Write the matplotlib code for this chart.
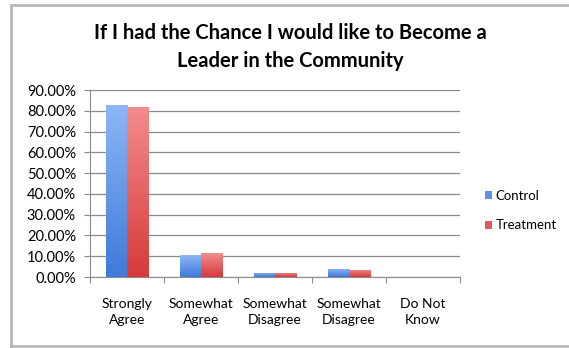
import numpy as np
import matplotlib.pyplot as plt
from matplotlib.colors import LinearSegmentedColormap
from matplotlib.lines import Line2D

categories = ['Strongly\nAgree', 'Somewhat\nAgree', 'Somewhat\nDisagree', 'Somewhat\nDisagree', 'Do Not\nKnow']
control = [82.8, 10.5, 2.0, 4.0, 0.0]
treatment = [82.0, 11.5, 2.0, 3.6, 0.0]
yticks = np.arange(0, 100, 10)

plt.rcParams['font.family'] = ['Lato', 'DejaVu Sans']

fig = plt.figure(figsize=(5.69, 3.48), dpi=100)
# grey frame (right edge runs off the picture)
frame = dict(transform=fig.transFigure, color='#b8b8b8', linewidth=2)
fig.lines.append(Line2D([0.020, 0.020], [0.006, 0.986], **frame))
fig.lines.append(Line2D([0.020, 1.0], [0.986, 0.986], **frame))
fig.lines.append(Line2D([0.020, 1.0], [0.006, 0.006], **frame))

ax = fig.add_axes([0.158, 0.204, 0.650, 0.537])
x = np.arange(len(categories))
w = 0.285
bars_c = ax.bar(x - w / 2, control, w, color='#5f93e0', label='Control', zorder=3)
bars_t = ax.bar(x + w / 2, treatment, w, color='#e05a5a', label='Treatment', zorder=3)

# vertical gradient fill on each bar
grad = np.linspace(0, 1, 64).reshape(-1, 1)
cmaps = [LinearSegmentedColormap.from_list('b', ['#3f7bd8', '#8cb6f7']),
         LinearSegmentedColormap.from_list('r', ['#d63b3b', '#f28c8c'])]
for bars, cm in zip([bars_c, bars_t], cmaps):
    for b in bars:
        if b.get_height() <= 0:
            continue
        x0, y0 = b.get_x(), b.get_y()
        im = ax.imshow(grad, cmap=cm, origin='lower', aspect='auto', zorder=4,
                       extent=[x0, x0 + b.get_width(), y0, y0 + b.get_height()])
        im.set_clip_path(b)

ax.set_xlim(-0.5, len(categories) - 0.5)
ax.set_ylim(0, 90)
ax.set_yticks(yticks)
ax.set_yticklabels(['%.2f%%' % v for v in yticks], fontsize=10.5)
ax.yaxis.grid(True, color='#8a8a8a', linewidth=0.9, zorder=0)

ax.set_xticks(np.arange(len(categories) + 1) - 0.5, minor=False)
ax.set_xticklabels([])
ax.set_xticks(x, minor=True)
ax.set_xticklabels(categories, minor=True, fontsize=10, linespacing=1.4)
ax.tick_params(axis='x', which='minor', length=0, pad=15)
ax.tick_params(axis='x', which='major', length=4, color='#8a8a8a')
ax.tick_params(axis='y', length=4, color='#8a8a8a', pad=6)

for s in ['top', 'right']:
    ax.spines[s].set_visible(False)
ax.spines['left'].set_color('#8a8a8a')
ax.spines['bottom'].set_color('#8a8a8a')

fig.text(0.51, 0.866, 'If I had the Chance I would like to Become a\nLeader in the Community',
         ha='center', va='center', fontsize=14.5, fontweight='bold', linespacing=1.5)

ax.legend(loc='center left', bbox_to_anchor=(1.035, 0.355), frameon=False, fontsize=9.5,
          handlelength=0.55, handleheight=0.55, handletextpad=0.3, labelspacing=1.3)

fig.savefig('out.png', dpi=100)
